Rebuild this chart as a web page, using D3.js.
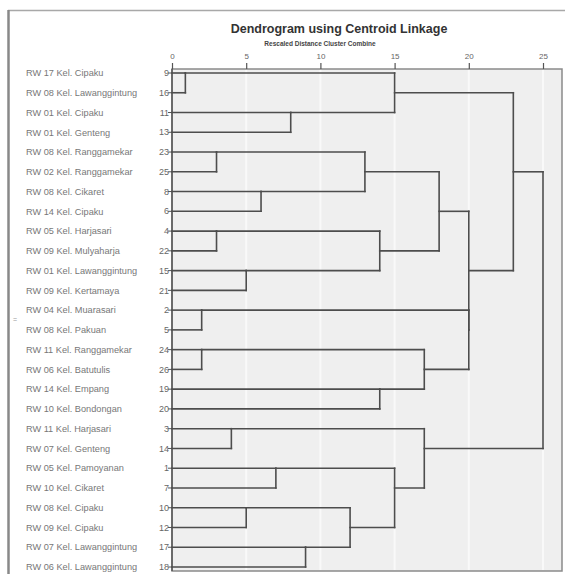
<!DOCTYPE html>
<html>
<head>
<meta charset="utf-8">
<script src="https://cdn.jsdelivr.net/npm/d3@7"></script>
<style>
  body { margin: 0; background: #fff; }
  svg { display: block; font-family: "Liberation Sans", Arial, sans-serif; }
</style>
</head>
<body>
<svg id="chart"></svg>
<script>
// Dendrogram using Centroid Linkage (SPSS style)

// case numbers in the order they are listed
const caseIds = [9, 16, 11, 13, 23, 25, 8, 6, 4, 22, 15, 21, 2, 5, 24, 26, 19, 20, 3, 14, 1, 7, 10, 12, 17, 18];

const caseLabels = [
  'RW 17 Kel. Cipaku', 'RW 08 Kel. Lawanggintung', 'RW 01 Kel. Cipaku', 'RW 01 Kel. Genteng',
  'RW 08 Kel. Ranggamekar', 'RW 02 Kel. Ranggamekar', 'RW 08 Kel. Cikaret', 'RW 14 Kel. Cipaku',
  'RW 05 Kel. Harjasari', 'RW 09 Kel. Mulyaharja', 'RW 01 Kel. Lawanggintung', 'RW 09 Kel. Kertamaya',
  'RW 04 Kel. Muarasari', 'RW 08 Kel. Pakuan', 'RW 11 Kel. Ranggamekar', 'RW 06 Kel. Batutulis',
  'RW 14 Kel. Empang', 'RW 10 Kel. Bondongan', 'RW 11 Kel. Harjasari', 'RW 07 Kel. Genteng',
  'RW 05 Kel. Pamoyanan', 'RW 10 Kel. Cikaret', 'RW 08 Kel. Cipaku', 'RW 09 Kel. Cipaku',
  'RW 07 Kel. Lawanggintung', 'RW 06 Kel. Lawanggintung'
];

// agglomeration: [left, right, rescaled distance]; 's3' = result of stage 3
const mergeSchedule = [
  [9, 16, 0.9],
  [11, 13, 8],
  ['s0', 's1', 15],
  [23, 25, 3],
  [8, 6, 6],
  ['s3', 's4', 13],
  [4, 22, 3],
  [15, 21, 5],
  ['s6', 's7', 14],
  ['s5', 's8', 18],
  [2, 5, 2],
  [24, 26, 2],
  [19, 20, 14],
  ['s11', 's12', 17],
  ['s10', 's13', 20],
  ['s9', 's14', 20],
  ['s2', 's15', 23],
  [3, 14, 4],
  [1, 7, 7],
  [10, 12, 5],
  [17, 18, 9],
  ['s19', 's20', 12],
  ['s18', 's21', 15],
  ['s17', 's22', 17],
  ['s16', 's23', 25]
];

const distanceTicks = [0, 5, 10, 15, 20, 25];

const width = 565;
const height = 574;
const plot = { left: 172, right: 562, top: 69, bottom: 571 };

const svg = d3.select('#chart')
  .attr('width', width)
  .attr('height', height);

const xScale = d3.scaleLinear()
  .domain([0, 25])
  .range([172, 543]);

const yScale = d3.scalePoint()
  .domain(caseIds)
  .range([73, 567]);

// outer frame
svg.append('line')
  .attr('x1', 8).attr('x2', width)
  .attr('y1', 10.5).attr('y2', 10.5)
  .style('stroke', '#a8a8a8')
  .style('stroke-width', 1.5);

svg.append('line')
  .attr('x1', 8.5).attr('x2', 8.5)
  .attr('y1', 10).attr('y2', height)
  .style('stroke', '#888')
  .style('stroke-width', 2.5);

// titles
svg.append('text')
  .attr('x', 339)
  .attr('y', 33)
  .attr('text-anchor', 'middle')
  .style('font-size', '12.5px')
  .style('font-weight', 'bold')
  .style('fill', '#333')
  .text('Dendrogram using Centroid Linkage');

svg.append('text')
  .attr('x', 320)
  .attr('y', 46)
  .attr('text-anchor', 'middle')
  .style('font-size', '6.5px')
  .style('font-weight', 'bold')
  .style('fill', '#444')
  .text('Rescaled Distance Cluster Combine');

// plot background
svg.append('rect')
  .attr('x', plot.left)
  .attr('y', plot.top)
  .attr('width', plot.right - plot.left)
  .attr('height', plot.bottom - plot.top)
  .style('fill', '#efefef')
  .style('stroke', '#8a8a8a')
  .style('stroke-width', 1.5);

// light vertical grid lines
svg.append('g')
  .selectAll('line')
  .data(distanceTicks.slice(1))
  .enter()
  .append('line')
  .attr('x1', d => xScale(d))
  .attr('x2', d => xScale(d))
  .attr('y1', plot.top + 1)
  .attr('y2', plot.bottom - 1)
  .style('stroke', '#f9f9f9')
  .style('stroke-width', 2);

// top axis
const xAxis = d3.axisTop(xScale)
  .tickValues(distanceTicks)
  .tickSize(6)
  .tickSizeOuter(0)
  .tickPadding(4);

const xAxisG = svg.append('g')
  .attr('transform', `translate(0,${plot.top})`)
  .call(xAxis);

xAxisG.select('.domain').remove();
xAxisG.selectAll('line').style('stroke', '#555').style('stroke-width', 1.2);
xAxisG.selectAll('text')
  .style('font-size', '8px')
  .style('fill', '#666')
  .style('font-family', '"Liberation Sans", Arial, sans-serif');

// left axis with case numbers
svg.append('line')
  .attr('x1', plot.left).attr('x2', plot.left)
  .attr('y1', plot.top).attr('y2', plot.bottom)
  .style('stroke', '#444')
  .style('stroke-width', 1.2);

const rows = svg.append('g').attr('class', 'rows');

rows.selectAll('.case-tick')
  .data(caseIds)
  .enter()
  .append('line')
  .attr('x1', plot.left - 4)
  .attr('x2', plot.left)
  .attr('y1', d => yScale(d))
  .attr('y2', d => yScale(d))
  .style('stroke', '#555')
  .style('stroke-width', 1);

rows.selectAll('.case-num')
  .data(caseIds)
  .enter()
  .append('text')
  .attr('x', plot.left - 3)
  .attr('y', d => yScale(d))
  .attr('dy', '0.35em')
  .attr('text-anchor', 'end')
  .style('font-size', '9px')
  .style('fill', '#666')
  .text(d => d);

rows.selectAll('.case-label')
  .data(caseIds)
  .enter()
  .append('text')
  .attr('x', 26)
  .attr('y', d => yScale(d))
  .attr('dy', '0.35em')
  .style('font-size', '9.2px')
  .style('fill', '#777')
  .text((d, i) => caseLabels[i]);

// little mark on the left edge
svg.append('text')
  .attr('x', 13)
  .attr('y', 322)
  .style('font-size', '7px')
  .style('fill', '#999')
  .text('=');

// build the tree: each node has a row position and a height
const nodes = {};
caseIds.forEach((id, i) => { nodes[id] = { row: i, h: 0 }; });

const segments = [];
mergeSchedule.forEach(([a, b, h], i) => {
  const left = nodes[a];
  const right = nodes[b];
  // horizontal arms from each child out to the joining distance
  segments.push({ h1: left.h, h2: h, r1: left.row, r2: left.row });
  segments.push({ h1: right.h, h2: h, r1: right.row, r2: right.row });
  // vertical join
  segments.push({ h1: h, h2: h, r1: left.row, r2: right.row });
  nodes['s' + i] = { row: Math.floor((left.row + right.row) / 2), h: h };
});

svg.append('g')
  .attr('class', 'links')
  .selectAll('line')
  .data(segments)
  .enter()
  .append('line')
  .attr('x1', d => xScale(d.h1))
  .attr('x2', d => xScale(d.h2))
  .attr('y1', d => yScale(caseIds[d.r1]))
  .attr('y2', d => yScale(caseIds[d.r2]))
  .style('stroke', '#4d4d4d')
  .style('stroke-width', 1.6)
  .style('stroke-linecap', 'square');
</script>
</body>
</html>
